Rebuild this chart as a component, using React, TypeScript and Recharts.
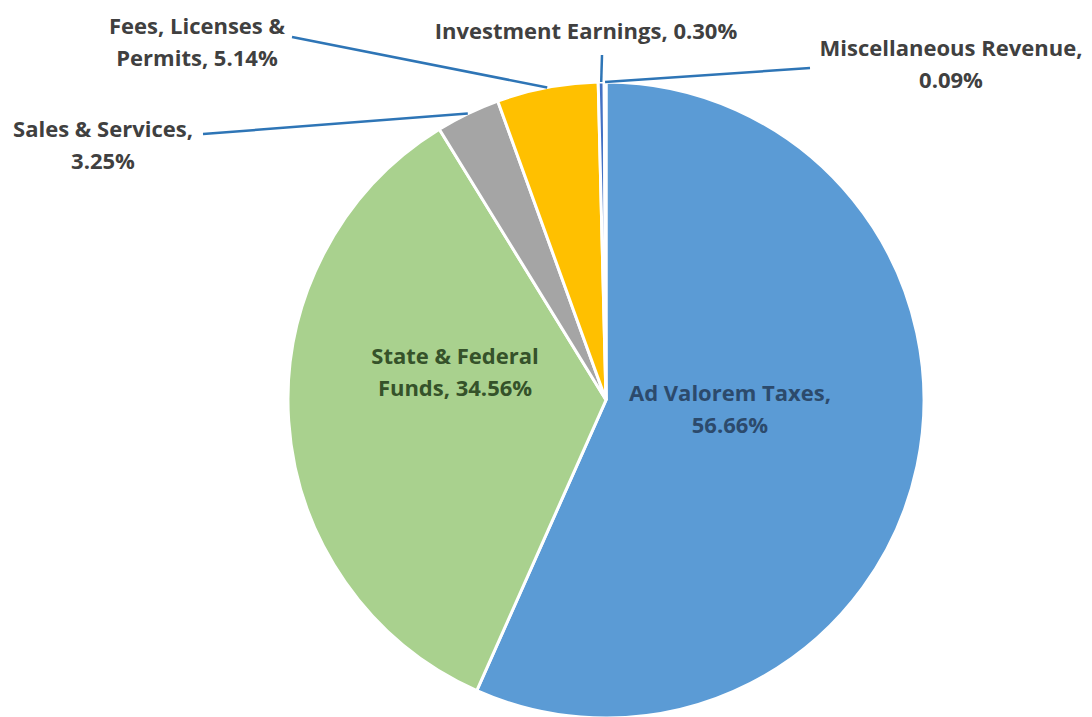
import React from 'react';
import { PieChart, Pie, Cell } from 'recharts';

const categories = [
  'Ad Valorem Taxes',
  'State & Federal Funds',
  'Sales & Services',
  'Fees, Licenses & Permits',
  'Investment Earnings',
  'Miscellaneous Revenue',
];
const shares = [56.66, 34.56, 3.25, 5.14, 0.3, 0.09];
const labelLines = [
  ['Ad Valorem Taxes,', '56.66%'],
  ['State & Federal', 'Funds, 34.56%'],
  ['Sales & Services,', '3.25%'],
  ['Fees, Licenses &', 'Permits, 5.14%'],
  ['Investment Earnings, 0.30%'],
  ['Miscellaneous Revenue,', '0.09%'],
];
const colors = ['#5B9BD5', '#A9D18E', '#A5A5A5', '#FFC000', '#4472C4', '#70AD47'];

const data = categories.map((name, i) => ({ name, value: shares[i] }));

// label layout: text centre offset from pie centre, optional leader-line start offset
type Layout = { tx: number; ty: number; lx?: number; ly?: number; color: string };
const layout: Layout[] = [
  { tx: 124, ty: -8, color: '#2C4A6C' },
  { tx: -151, ty: -45, color: '#35522A' },
  { tx: -503, ty: -272, lx: -403, ly: -266, color: '#404040' },
  { tx: -409, ty: -375, lx: -314, ly: -363, color: '#404040' },
  { tx: -20, ty: -370, lx: -4, ly: -345, color: '#404040' },
  { tx: 345, ty: -353, lx: 204, ly: -332, color: '#404040' },
];

const RAD = Math.PI / 180;
const LINE_H = 32;

const renderLabel = (props: any) => {
  const { cx, cy, midAngle, outerRadius, index } = props;
  const l = layout[index];
  const lines = labelLines[index];
  const ex = cx + outerRadius * Math.cos(-midAngle * RAD);
  const ey = cy + outerRadius * Math.sin(-midAngle * RAD);
  return (
    <g key={`lbl-${index}`}>
      {l.lx !== undefined && (
        <line
          x1={cx + l.lx}
          y1={cy + (l.ly as number)}
          x2={ex}
          y2={ey}
          stroke="#2E75B6"
          strokeWidth={2.5}
        />
      )}
      {lines.map((t, j) => (
        <text
          key={j}
          x={cx + l.tx}
          y={cy + l.ty + j * LINE_H}
          textAnchor="middle"
          dominantBaseline="central"
          fill={l.color}
          fontFamily="'Open Sans', sans-serif"
          fontWeight={700}
          fontSize={22}
        >
          {t}
        </text>
      ))}
    </g>
  );
};

export default function App() {
  return (
    <div style={{ position: 'absolute', left: 0, top: 0, width: 1092, height: 717, background: '#fff' }}>
      <PieChart width={1092} height={717} margin={{ top: 0, right: 0, bottom: 0, left: 0 }}>
        <Pie
          data={data}
          dataKey="value"
          nameKey="name"
          cx={606}
          cy={400}
          outerRadius={318}
          startAngle={90}
          endAngle={-270}
          stroke="#ffffff"
          strokeWidth={3}
          label={renderLabel}
          labelLine={false}
          isAnimationActive={false}
        >
          {data.map((d, i) => (
            <Cell key={d.name} fill={colors[i]} />
          ))}
        </Pie>
      </PieChart>
    </div>
  );
}
